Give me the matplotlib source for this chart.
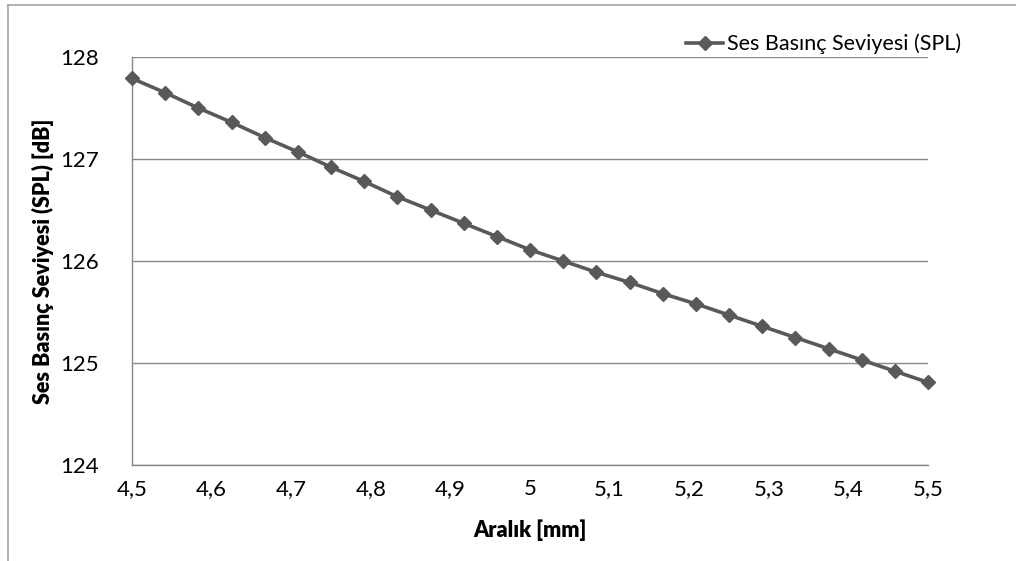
import matplotlib
matplotlib.use("Agg")
import matplotlib.pyplot as plt
from matplotlib.lines import Line2D

plt.rcParams['font.family'] = ['Lato', 'DejaVu Sans']

aralik = [4.5, 4.5417, 4.5833, 4.625, 4.6667, 4.7083, 4.75, 4.7917, 4.8333, 4.875,
          4.9167, 4.9583, 5.0, 5.0417, 5.0833, 5.125, 5.1667, 5.2083, 5.25, 5.2917,
          5.3333, 5.375, 5.4167, 5.4583, 5.5]
spl = [127.79, 127.65, 127.50, 127.36, 127.21, 127.07, 126.92, 126.78, 126.63, 126.50,
       126.37, 126.24, 126.11, 126.00, 125.89, 125.79, 125.68, 125.58, 125.47, 125.36,
       125.25, 125.14, 125.03, 124.92, 124.81]
x_ticks = [4.5, 4.6, 4.7, 4.8, 4.9, 5.0, 5.1, 5.2, 5.3, 5.4, 5.5]
x_labels = ['4,5', '4,6', '4,7', '4,8', '4,9', '5', '5,1', '5,2', '5,3', '5,4', '5,5']
y_ticks = [124, 125, 126, 127, 128]
series_name = 'Ses Basınç Seviyesi (SPL)'
x_title = 'Aralık [mm]'
y_title = 'Ses Basınç Seviyesi (SPL) [dB]'

W, H = 1016, 561
fig = plt.figure(figsize=(W / 100, H / 100), dpi=100)
ax = fig.add_axes([132 / W, 1 - 465 / H, (928 - 132) / W, (465 - 57) / H])

line_color = '#595959'
ax.plot(aralik, spl, color=line_color, lw=2.6, marker='D', markersize=7.5,
        markeredgecolor=line_color, markerfacecolor=line_color, label=series_name,
        clip_on=False, zorder=3)

ax.set_xlim(4.5, 5.5)
ax.set_ylim(124, 128)
ax.set_xticks(x_ticks)
ax.set_xticklabels(x_labels)
ax.set_yticks(y_ticks)
ax.yaxis.grid(True, color='#888888', lw=1)
ax.set_axisbelow(True)
for s in ['top', 'right']:
    ax.spines[s].set_visible(False)
for s in ['left', 'bottom']:
    ax.spines[s].set_color('#888888')
    ax.spines[s].set_linewidth(1)
ax.tick_params(axis='both', length=0, labelsize=16, colors='black')
ax.tick_params(axis='x', pad=10)
ax.tick_params(axis='y', pad=24)

ax.set_xlabel(x_title, fontsize=15.5, fontweight='heavy', labelpad=15)
ax.set_ylabel(y_title, fontsize=15.5, fontweight='heavy', labelpad=4)

leg = fig.legend(loc='upper right', bbox_to_anchor=(972 / W, 1 - 23 / H), frameon=False,
                 fontsize=15.5, handlelength=1.7, handletextpad=0.2, borderpad=0)

# outer chart frame
fig.add_artist(Line2D([8 / W, 1], [1 - 5 / H, 1 - 5 / H], color='#a6a6a6', lw=1.2,
                      transform=fig.transFigure))
fig.add_artist(Line2D([8 / W, 8 / W], [0, 1 - 5 / H], color='#a6a6a6', lw=1.2,
                      transform=fig.transFigure))

fig.savefig('out.png', dpi=100)
